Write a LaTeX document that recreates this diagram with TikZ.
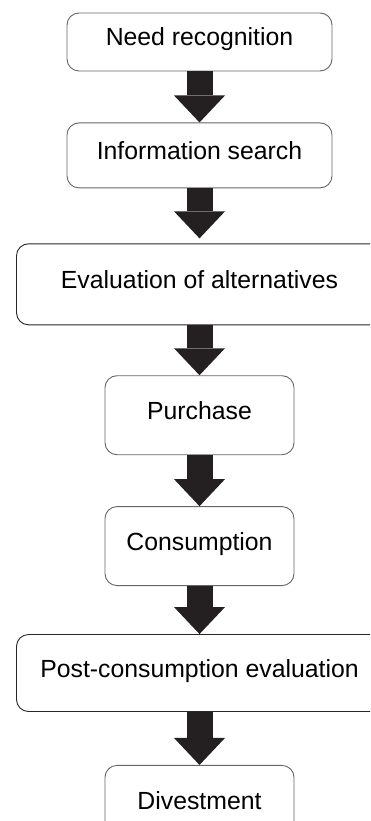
\documentclass[tikz,border=0pt]{standalone}
\usepackage{fontspec}
\setmainfont{Liberation Sans}
\usepackage{xcolor}
\usepackage{tikz}
\usetikzlibrary{positioning,arrows.meta}
\tikzset{c-stage/.style={rectangle, rounded corners=12pt, minimum width=265pt, minimum height=58pt, text centered, text height=0.8em, text depth=0pt, draw=c_border, line width=0.9pt, fill=white, font=\fontsize{24.8}{29}\selectfont},
c-wide/.style={c-stage, minimum width=366pt, draw=c_dark},
c-narrow/.style={c-stage, minimum width=189pt, minimum height=79pt},
arrow/.style={line width=26pt, draw=c_arrow, -{Triangle[width=51pt, length=27pt, line width=0pt]}}}
\definecolor{c_border}{rgb}{0.4, 0.4, 0.4}
\definecolor{c_dark}{rgb}{0.15, 0.15, 0.15}
\definecolor{c_arrow}{rgb}{0.14, 0.12, 0.13}

\begin{document}
\begin{tikzpicture}[x=1pt, y=1pt, node distance=51pt]
\path[use as bounding box, clip] (0,0) rectangle (370,-821);
\node (n0) [c-stage] at (199.5,-42) {Need recognition};
\node (n1) [c-stage, minimum height=65pt, below=of n0] {Information search};
\node (n2) [c-wide, minimum height=81pt, below=55pt of n1] {Evaluation of alternatives};
\node (n3) [c-narrow, below=50pt of n2] {Purchase};
\node (n4) [c-narrow, below=of n3] {Consumption};
\node (n5) [c-wide, minimum height=77pt, below=48pt of n4] {Post-consumption evaluation};
\node (n6) [c-narrow, minimum height=80pt, below=53pt of n5] {Divestment};
\draw [arrow] (n0) -- (n1);
\draw [arrow, shorten >=5pt] (n1) -- (n2);
\draw [arrow] (n2) -- (n3);
\draw [arrow] (n3) -- (n4);
\draw [arrow] (n4) -- (n5);
\draw [arrow] (n5) -- (n6);
\end{tikzpicture}
\end{document}
